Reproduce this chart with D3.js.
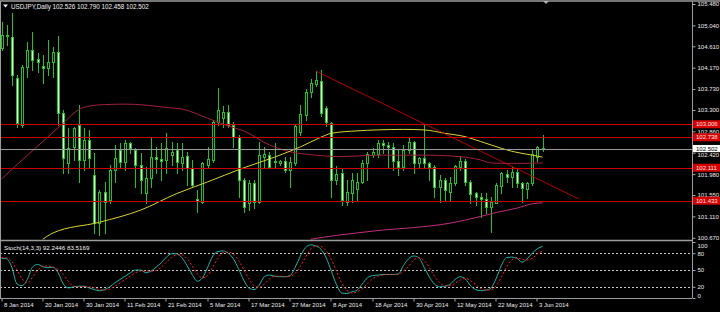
<!DOCTYPE html>
<html>
  <head>
    <meta charset="utf-8">
    <title>USDJPY, Daily</title>
    <script src="https://cdn.jsdelivr.net/npm/d3@7"></script>
    <style>
      html, body { margin: 0; padding: 0; background: #000; }
      svg { display: block; font-family: "Liberation Sans", Arial, sans-serif; }
      .axis text { fill: #ececec; font-size: 6px; }
      .axis line { stroke: #a8a8a8; }
    </style>
  </head>

  <body>
    <svg id="chart" width="720" height="312"></svg>

    <script>
      // daily bars, 8 Jan - 4 Jun 2014
      var open = [104.57,104.84,104.80,103.96,102.99,104.18,104.53,104.35,104.20,104.16,
        104.29,104.49,103.24,102.21,102.54,102.99,102.27,102.68,101.96,100.97,
        101.61,101.45,102.06,102.48,102.23,102.62,102.48,102.17,101.59,101.90,
        102.33,102.29,102.27,102.37,102.48,102.21,102.35,102.11,101.47,101.41,
        102.17,102.27,103.05,103.13,103.26,102.99,102.74,101.86,101.39,101.80,
        101.41,102.33,102.37,102.25,102.21,102.25,102.06,102.21,102.85,103.20,
        103.67,103.83,103.90,103.34,103.03,101.86,102.00,101.41,101.59,101.67,
        101.82,102.21,102.37,102.39,102.62,102.58,102.54,102.25,102.13,102.48,
        102.64,102.21,102.31,102.21,102.13,101.71,101.86,101.61,101.80,102.13,
        102.25,101.82,101.59,101.51,101.47,101.30,101.39,101.74,101.98,101.92,
        102.02,101.80,101.67,101.80,102.33,102.526];
      var high = [105.11,105.05,105.30,104.02,104.23,104.70,104.90,104.47,104.43,104.74,
        104.60,104.82,103.30,102.93,102.95,103.40,102.93,102.89,102.41,101.65,
        101.82,102.17,102.58,102.62,102.68,102.64,102.52,102.41,102.13,102.72,
        102.54,102.62,102.83,102.64,102.62,102.62,102.44,102.27,101.65,102.23,
        102.54,103.09,103.75,103.38,103.40,103.05,102.78,101.90,101.86,101.86,
        102.64,102.54,102.44,102.62,102.27,102.33,102.33,102.99,103.40,103.73,
        103.94,104.10,104.12,103.38,103.05,102.15,102.11,101.86,102.00,102.00,
        102.27,102.44,102.52,102.68,102.68,102.64,102.62,102.50,102.58,102.74,
        102.66,102.33,103.01,102.23,102.17,101.96,101.90,101.92,102.17,102.35,
        102.29,101.86,101.61,101.59,101.59,101.51,101.80,102.02,102.06,102.13,
        102.11,101.82,101.82,102.50,102.56,102.790];
      var low = [104.53,104.64,103.81,102.95,102.95,103.98,104.12,104.08,103.85,104.02,
        103.98,102.99,102.00,102.00,102.27,101.82,102.06,102.13,100.77,100.73,
        100.77,101.39,101.82,102.11,102.06,102.41,101.71,101.59,101.39,101.71,
        102.00,101.86,102.00,102.17,102.00,102.06,101.76,101.71,101.20,101.39,
        102.13,102.23,102.99,102.95,102.95,102.54,101.51,101.20,101.24,101.28,
        101.39,102.13,102.11,102.13,102.17,102.02,101.71,102.17,102.78,103.09,
        103.57,103.79,103.18,102.97,101.51,101.78,101.34,101.34,101.41,101.45,
        101.80,101.86,102.33,102.33,102.41,102.13,102.06,101.96,102.06,102.41,
        102.00,102.13,102.13,101.86,101.51,101.41,101.45,101.45,101.76,102.06,
        101.76,101.39,101.34,101.10,101.18,100.79,101.39,101.59,101.82,101.71,
        101.71,101.41,101.49,101.76,102.25,102.458];
      var close = [104.84,104.82,104.02,103.03,104.18,104.53,104.33,104.29,104.16,104.29,
        104.49,103.24,102.31,102.52,102.93,102.27,102.68,102.31,100.97,101.61,
        101.41,102.06,102.31,102.23,102.62,102.52,102.17,101.86,101.90,102.33,
        102.29,102.25,102.52,102.44,102.23,102.33,102.11,101.76,101.43,102.21,
        102.29,103.05,103.30,103.26,102.99,102.74,101.86,101.30,101.80,101.41,
        102.37,102.39,102.13,102.23,102.25,102.06,102.23,102.97,103.22,103.67,
        103.85,103.92,103.24,103.05,101.86,101.98,101.45,101.61,101.86,101.82,
        102.21,102.39,102.44,102.62,102.58,102.54,102.25,102.13,102.48,102.64,
        102.21,102.31,102.21,102.13,101.71,101.86,101.65,101.80,102.15,102.25,
        101.82,101.57,101.51,101.47,101.30,101.41,101.76,102.00,101.92,102.02,
        101.80,101.69,101.80,102.39,102.54,102.502];

      // stochastic (14,3,3)
      var stochK = [71,70,55,25,22,33,55,60,56,54, 55,45,25,18,20,21,21,18,15,13,
        15,20,27,33,39,45,50,50,45,48, 55,63,73,79,79,72,58,42,30,36,
        55,75,83,84,80,70,52,32,18,15, 23,38,41,39,38,38,40,55,75,90,
        95,93,87,72,48,24,9,8,11,14, 25,36,40,41,42,42,42,43,58,70,
        75,72,55,38,25,20,21,24,33,38, 34,22,15,13,14,18,35,58,72,73,
        71,64,70,80,88,92.2446];
      var stochD = [72,72,65,50,34,27,37,49,57,57, 55,51,42,29,21,20,21,20,18,15,
        14,16,21,27,33,39,45,48,48,48, 49,55,64,72,77,77,70,57,43,36,
        40,55,71,81,82,78,67,51,34,22, 19,25,34,39,39,38,39,44,57,73,
        87,93,92,84,69,48,27,14,9,11, 17,25,34,39,41,42,42,42,48,57,
        68,72,67,55,39,28,22,22,26,32, 35,31,24,17,14,15,22,37,55,68,
        72,69,68,71,79,83.5169];

      // moving averages, [bar, price]
      var maMaroon = [[0,101.88],[4,102.27],[8,102.65],[12,103.03],[15,103.31],[17,103.38],[20,103.41],
        [24,103.42],[28,103.40],[32,103.35],[35,103.32],[40,103.13],[44,102.97],[47,102.87],[52,102.58],
        [56,102.44],[60,102.38],[66,102.34],[73,102.37],[83,102.37],[89,102.34],[93,102.27],[95,102.21],
        [99,102.20],[105,102.21]];
      var maYellow = [[8,100.64],[10,100.77],[19,100.99],[27,101.24],[34,101.58],[40,101.82],[47,102.11],
        [53,102.33],[58,102.54],[62,102.74],[64,102.82],[69,102.87],[73,102.89],[78,102.90],[82,102.89],
        [86,102.82],[90,102.75],[93,102.65],[95,102.58],[99,102.45],[103,102.37],[105,102.33]];
      var maMagenta = [[60,100.64],[65,100.72],[69,100.77],[74,100.83],[80,100.88],[87,100.97],
        [93,101.11],[96,101.19],[100,101.28],[103,101.37],[105,101.39]];

      // drawn objects
      var levels = [103.006, 102.738, 102.111, 101.433];
      var trend = [[61, 104.10], [112, 101.47]];

      // axis labels
      var priceTicks = [105.48, 105.04, 104.61, 104.17, 103.73, 103.30, 102.86, 102.42, 101.98, 101.55, 101.11, 100.67];
      var stochTicks = [100, 80, 50, 20, 0];
      var stochLevels = [80, 50, 20];
      var dateTicks = ["8 Jan 2014", "20 Jan 2014", "30 Jan 2014", "11 Feb 2014", "21 Feb 2014", "5 Mar 2014",
        "17 Mar 2014", "27 Mar 2014", "8 Apr 2014", "18 Apr 2014", "30 Apr 2014", "12 May 2014",
        "22 May 2014", "3 Jun 2014"];

      // page elements
      svg = d3.select("#chart");
      right = 692;
      mainTop = 2; mainBottom = 240;
      subTop = 241; subBottom = 298;
      frame = "#9c9c9c";
      green = "#24c024";

      // one bar per weekday
      dates = d3.utcDays(new Date(Date.UTC(2014, 0, 8)), new Date(Date.UTC(2014, 5, 5)))
        .filter(function(d) { return d.getUTCDay() % 6 != 0; });
      dateFormat = d3.utcFormat("%-d %b %Y");

      // scales
      x = d3.scaleLinear()
        .domain([0, dates.length - 1])
        .range([1.5, 542.6]);
      y = d3.scaleLinear()
        .domain([100.67, 105.48])
        .range([237.8, 4]);
      ys = d3.scaleLinear()
        .domain([0, 100])
        .range([subBottom, subTop + 1]);

      function cx(i) {
        return Math.round(x(i)) + 0.5;
      }

      defs = svg.append("defs");
      defs.append("clipPath").attr("id", "clipMain")
        .append("rect").attr("x", 0).attr("y", mainTop).attr("width", right).attr("height", mainBottom - mainTop);
      defs.append("clipPath").attr("id", "clipSub")
        .append("rect").attr("x", 0).attr("y", subTop).attr("width", right).attr("height", subBottom - subTop);

      svg.append("rect")
        .attr("width", 720)
        .attr("height", 312)
        .attr("fill", "#000");

      main = svg.append("g").attr("clip-path", "url(#clipMain)");
      sub = svg.append("g").attr("clip-path", "url(#clipSub)");

      // candles
      bars = d3.range(close.length);
      candle = main.selectAll(".candle")
        .data(bars)
      .enter().append("g")
        .classed("candle", true);
      candle.append("line")
        .attr("x1", cx)
        .attr("x2", cx)
        .attr("y1", function(i) { return Math.round(y(high[i])); })
        .attr("y2", function(i) { return Math.round(y(low[i])) + 1; })
        .attr("stroke", green)
        .attr("stroke-width", 1);
      candle.append("rect")
        .attr("x", function(i) { return cx(i) - 1; })
        .attr("width", 2)
        .attr("y", function(i) { return Math.round(y(Math.max(open[i], close[i]))) + 0.5; })
        .attr("height", function(i) {
          return Math.max(0.5, Math.round(y(Math.min(open[i], close[i]))) - Math.round(y(Math.max(open[i], close[i]))));
        })
        .attr("fill", function(i) { return close[i] >= open[i] ? "#000" : "#e6ffe2"; })
        .attr("stroke", green)
        .attr("stroke-width", 1);

      // indicators
      maLine = d3.line()
        .x(function(d) { return x(d[0]); })
        .y(function(d) { return y(d[1]); })
        .curve(d3.curveMonotoneX);
      main.append("path").datum(maMaroon)
        .attr("d", maLine).attr("fill", "none").attr("stroke", "#a3203e").attr("stroke-width", 1);
      main.append("path").datum(maYellow)
        .attr("d", maLine).attr("fill", "none").attr("stroke", "#d9d23a").attr("stroke-width", 1);
      main.append("path").datum(maMagenta)
        .attr("d", maLine).attr("fill", "none").attr("stroke", "#c2307c").attr("stroke-width", 1);

      // objects
      main.selectAll(".level")
        .data(levels)
      .enter().append("line")
        .attr("x1", 0).attr("x2", right)
        .attr("y1", function(d) { return Math.round(y(d)) + 0.5; })
        .attr("y2", function(d) { return Math.round(y(d)) + 0.5; })
        .attr("stroke", "#c80000")
        .attr("stroke-width", 1);
      main.append("line")
        .attr("x1", x(trend[0][0])).attr("y1", y(trend[0][1]))
        .attr("x2", x(trend[1][0])).attr("y2", y(trend[1][1]))
        .attr("stroke", "#dd0000")
        .attr("stroke-width", 0.8);
      bid = close[close.length - 1];
      main.append("line")
        .attr("x1", 0).attr("x2", right)
        .attr("y1", Math.round(y(bid)) + 0.5).attr("y2", Math.round(y(bid)) + 0.5)
        .attr("stroke", "#9a9a9a")
        .attr("stroke-width", 1);

      // stochastic window
      sub.selectAll(".stochLevel")
        .data(stochLevels)
      .enter().append("line")
        .attr("x1", 0).attr("x2", right)
        .attr("y1", function(d) { return Math.round(ys(d)) + 0.5; })
        .attr("y2", function(d) { return Math.round(ys(d)) + 0.5; })
        .attr("stroke", "#c8c8c8")
        .attr("stroke-dasharray", "2,2")
        .attr("stroke-width", 1);
      stochLine = d3.line()
        .x(function(d, i) { return x(i); })
        .y(function(d) { return ys(d); })
        .curve(d3.curveMonotoneX);
      sub.append("path").datum(stochK)
        .attr("d", stochLine).attr("fill", "none").attr("stroke", "#20b2aa").attr("stroke-width", 1);
      sub.append("path").datum(stochD)
        .attr("d", stochLine).attr("fill", "none").attr("stroke", "#ff1a1a")
        .attr("stroke-dasharray", "2,2").attr("stroke-width", 1);

      // frame
      svg.append("line").attr("x1", 0).attr("x2", 720).attr("y1", 1).attr("y2", 1)
        .attr("stroke", frame).attr("stroke-width", 1.5);
      svg.append("line").attr("x1", 0).attr("x2", right).attr("y1", 240.5).attr("y2", 240.5)
        .attr("stroke", frame).attr("stroke-width", 1.5);
      svg.append("line").attr("x1", 0).attr("x2", right).attr("y1", subBottom + 0.5).attr("y2", subBottom + 0.5)
        .attr("stroke", frame).attr("stroke-width", 1);
      svg.append("line").attr("x1", 0.5).attr("x2", 0.5).attr("y1", 1).attr("y2", subBottom)
        .attr("stroke", frame).attr("stroke-width", 1);
      svg.append("line").attr("x1", right + 0.5).attr("x2", right + 0.5).attr("y1", 1).attr("y2", subBottom)
        .attr("stroke", frame).attr("stroke-width", 1);

      // price axis
      bid = close[close.length - 1];
      yAxis = d3.axisRight(y)
        .tickValues(priceTicks)
        .tickSize(3)
        .tickPadding(2)
        .tickFormat(d3.format(".3f"));
      svg.append("g")
        .attr("class", "axis")
        .attr("transform", "translate(" + (right + 0.5) + ",0)")
        .call(yAxis)
        .call(function(g) { g.select(".domain").remove(); })
        .selectAll("text")
          // nudge the label that sits under the bid tag
          .attr("y", function(d) { return Math.abs(y(d) - y(bid)) < 6 ? 2.2 : 0; });

      // stochastic axis
      sAxis = d3.axisRight(ys)
        .tickValues(stochTicks)
        .tickSize(3)
        .tickPadding(2)
        .tickFormat(d3.format("d"));
      svg.append("g")
        .attr("class", "axis")
        .attr("transform", "translate(" + (right + 0.5) + ",0)")
        .call(sAxis)
        .call(function(g) { g.select(".domain").remove(); })
        .selectAll("text")
          .attr("y", function(d) { return d == 100 ? 3.5 : d == 0 ? -2.3 : 0; });

      // time axis
      tickIndex = dateTicks.map(function(s) {
        return dates.findIndex(function(d) { return dateFormat(d) == s; });
      });
      xAxis = d3.axisBottom(x)
        .tickValues(tickIndex)
        .tickSize(3)
        .tickFormat(function(i) { return dateFormat(dates[i]); });
      svg.append("g")
        .attr("class", "axis")
        .attr("transform", "translate(0," + (subBottom + 0.5) + ")")
        .call(xAxis)
        .call(function(g) { g.select(".domain").remove(); })
        .call(function(g) { g.selectAll(".tick").attr("transform", function(i) { return "translate(" + (cx(i) - 0.5) + ",0)"; }); })
        .selectAll("text")
          .attr("text-anchor", "start")
          .attr("x", 2)
          .attr("y", 4.5);

      // price labels on the right edge
      tags = svg.append("g");
      levels.forEach(function(d) {
        tags.append("rect")
          .attr("x", right + 1).attr("y", y(d) - 4)
          .attr("width", 28).attr("height", 8)
          .attr("fill", "#d40000");
        tags.append("text")
          .attr("x", right + 4).attr("y", y(d))
          .attr("dy", "0.35em")
          .attr("font-size", "6px")
          .attr("fill", "#ffe4e4")
          .text(d3.format(".3f")(d));
      });
      tags.append("rect")
        .attr("x", right + 1).attr("y", y(bid) - 3.8)
        .attr("width", 28).attr("height", 7.2)
        .attr("fill", "#fff");
      tags.append("text")
        .attr("x", right + 4).attr("y", y(bid) - 0.2)
        .attr("dy", "0.35em")
        .attr("font-size", "6px")
        .attr("fill", "#000")
        .text(d3.format(".3f")(bid));

      // headers
      last = close.length - 1;
      svg.append("path")
        .attr("d", "M3,4.5 L8,4.5 L5.5,7.5 Z")
        .attr("fill", "#f0f0f0");
      svg.append("text")
        .attr("x", 11).attr("y", 9)
        .attr("font-size", "6.3px")
        .attr("fill", "#f0f0f0")
        .text("USDJPY,Daily " + [open[last], high[last], low[last], close[last]].map(d3.format(".3f")).join(" "));
      svg.append("text")
        .attr("x", 4).attr("y", 250)
        .attr("font-size", "6.2px")
        .attr("fill", "#f0f0f0")
        .text("Stoch(14,3,3) " + d3.format(".4f")(stochK[last]) + " " + d3.format(".4f")(stochD[last]));

      // chart shift marker
      svg.append("path")
        .attr("d", "M543,1 L549,1 L546,4 Z")
        .attr("fill", "#b0b0b0");
    </script>
  </body>
</html>
